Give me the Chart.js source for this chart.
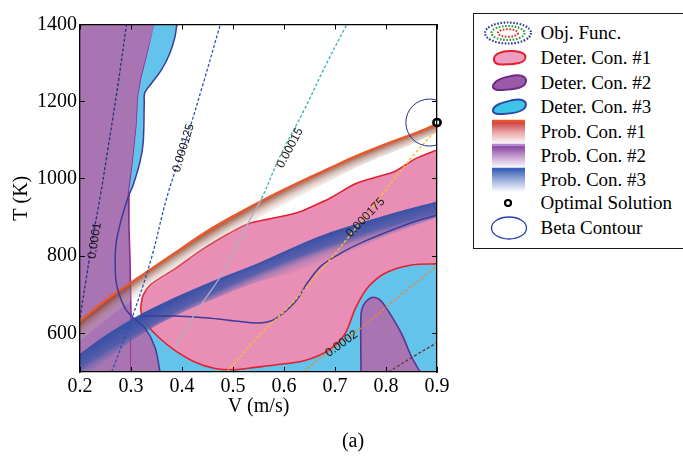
<!DOCTYPE html>
<html>
<head>
<meta charset="utf-8">
<script src="https://cdn.jsdelivr.net/npm/chart.js@4.4.1/dist/chart.umd.min.js"></script>
<style>
  html, body { margin: 0; padding: 0; background: #fff; }
  #wrap { position: relative; width: 683px; height: 469px; overflow: hidden;
          font-family: "Liberation Serif", "Times New Roman", serif; }
  #plot { position: absolute; left: 0; top: 0; }
  #legend { position: absolute; left: 473px; top: 13px; width: 240px; height: 234px;
            border: 1.5px solid #1a1a1a; background: #fff; }
  .row { position: absolute; left: 0; width: 240px; height: 24px; }
  .row svg { position: absolute; left: 8.5px; top: -1px; overflow: visible; }
  .row span { position: absolute; left: 66.5px; top: 0; line-height: 24px; font-size: 19px;
              white-space: nowrap; color: #000; }
  #caption { position: absolute; left: 353px; top: 428px; transform: translateX(-50%);
             font-size: 20px; line-height: 24px; color: #000; }
</style>
</head>
<body>
<div id="wrap">
  <canvas id="plot" width="683" height="469"></canvas>

  <div id="legend">
    <div class="row" style="top:6.5px">
      <svg width="52" height="26" viewBox="0 0 52 26">
        <ellipse cx="25" cy="13" rx="23" ry="10.5" fill="none" stroke="#2c3c9c" stroke-width="2.2" stroke-dasharray="1.6 1.6"/>
        <ellipse cx="25" cy="13" rx="16.5" ry="7" fill="none" stroke="#27a040" stroke-width="2.2" stroke-dasharray="1.6 1.6"/>
        <ellipse cx="25" cy="13" rx="10" ry="3.8" fill="none" stroke="#e02828" stroke-width="2" stroke-dasharray="1.6 1.6"/>
      </svg><span>Obj. Func.</span></div>
    <div class="row" style="top:31.5px">
      <svg width="52" height="26" viewBox="0 0 52 26">
        <path d="M11,15 C10,9 19,5.5 29,6 C39,6.5 44,9 42,14 C40,19 30,19 21,19.5 C15,20 11.5,18 11,15 Z" fill="#ee9cc2" stroke="#e4202c" stroke-width="2"/>
      </svg><span>Deter. Con. #1</span></div>
    <div class="row" style="top:56.5px">
      <svg width="52" height="26" viewBox="0 0 52 26">
        <path d="M10,16 C11,10 22,7 31,5.5 C40,4 44.5,8 42.5,13 C40.5,18.5 30,19.5 20,20 C13,20.5 9.5,19 10,16 Z" fill="#9a5aa8" stroke="#6a2a8a" stroke-width="2"/>
      </svg><span>Deter. Con. #2</span></div>
    <div class="row" style="top:80.5px">
      <svg width="52" height="26" viewBox="0 0 52 26">
        <path d="M10,16 C11,10 22,8 30,6 C39,4 44.5,7.5 42.5,12.5 C40.5,18 30,19.5 20,20 C13,20.5 9.5,19 10,16 Z" fill="#3dc4e6" stroke="#2c48a8" stroke-width="2"/>
      </svg><span>Deter. Con. #3</span></div>
    <div class="row" style="top:105.5px">
      <svg width="52" height="26" viewBox="0 0 52 26">
        <defs><linearGradient id="g1" x1="0" y1="0" x2="0" y2="1">
          <stop offset="0" stop-color="#c8282c"/><stop offset="0.5" stop-color="#e8a4a4"/><stop offset="1" stop-color="#fff"/></linearGradient></defs>
        <rect x="9" y="1" width="33" height="24" fill="url(#g1)"/>
        <line x1="9" y1="2" x2="42" y2="2" stroke="#e8562e" stroke-width="2.5"/>
      </svg><span>Prob. Con. #1</span></div>
    <div class="row" style="top:129.5px">
      <svg width="52" height="26" viewBox="0 0 52 26">
        <defs><linearGradient id="g2" x1="0" y1="0" x2="0" y2="1">
          <stop offset="0" stop-color="#7a2e90"/><stop offset="0.5" stop-color="#c49ad0"/><stop offset="1" stop-color="#fff"/></linearGradient></defs>
        <rect x="9" y="1" width="33" height="24" fill="url(#g2)"/>
        <line x1="9" y1="2" x2="42" y2="2" stroke="#b08ad0" stroke-width="2.5"/>
      </svg><span>Prob. Con. #2</span></div>
    <div class="row" style="top:153.5px">
      <svg width="52" height="26" viewBox="0 0 52 26">
        <defs><linearGradient id="g3" x1="0" y1="0" x2="0" y2="1">
          <stop offset="0" stop-color="#3456b0"/><stop offset="0.5" stop-color="#9cb0dc"/><stop offset="1" stop-color="#fff"/></linearGradient></defs>
        <rect x="9" y="1" width="33" height="24" fill="url(#g3)"/>
        <line x1="9" y1="2" x2="42" y2="2" stroke="#3a62c0" stroke-width="2.5"/>
      </svg><span>Prob. Con. #3</span></div>
    <div class="row" style="top:176.5px">
      <svg width="52" height="26" viewBox="0 0 52 26">
        <circle cx="25" cy="13" r="3" fill="#fff" stroke="#000" stroke-width="2.2"/>
      </svg><span>Optimal Solution</span></div>
    <div class="row" style="top:201.5px">
      <svg width="52" height="26" viewBox="0 0 52 26">
        <ellipse cx="26" cy="13" rx="17.5" ry="11" fill="none" stroke="#2c40aa" stroke-width="1.3"/>
      </svg><span>Beta Contour</span></div>
  </div>

  <div id="caption">(a)</div>
</div>

<script>
// ── Axes ──────────────────────────────────────
const xTicks = [0.2, 0.3, 0.4, 0.5, 0.6, 0.7, 0.8, 0.9];
const yTicks = [600, 800, 1000, 1200, 1400];

// ── Deterministic constraint regions (outlines, [V, T]) ──
const det3Lower = [[0.308,640],[0.327,615],[0.347,564],[0.357,500],[0.357,490],[0.91,490],[0.91,800],
  [0.80,790],[0.76,760],[0.6,600],[0.4,620],[0.33,648],[0.308,640]];
const det2Left = [[0.19,1410],[0.348,1410],[0.347,1400],[0.334,1333],[0.321,1266],[0.314,1215],[0.311,1139],
  [0.303,1037],[0.295,961],[0.296,880],[0.298,792],[0.300,650],[0.300,490],[0.19,490],[0.19,1410]];
const det2Wedge = [[0.300,650],[0.308,636],[0.327,615],[0.347,564],[0.357,500],[0.357,490],[0.300,490],[0.300,650]];
const det3Upper = [[0.347,1410],[0.392,1410],[0.390,1400],[0.386,1367],[0.376,1325],[0.360,1283],[0.341,1249],
  [0.327,1223],[0.326,1198],[0.324,1096],[0.318,1046],[0.305,987],[0.295,955],[0.303,1037],[0.311,1139],
  [0.314,1215],[0.321,1266],[0.334,1333],[0.347,1410]];
const det1Pink = [[0.319,668],[0.324,700],[0.34,728],[0.386,767],[0.437,815],[0.491,858],[0.53,884],[0.57,896],
  [0.622,911],[0.654,928],[0.69,950],[0.739,987],[0.778,1004],[0.818,1020],[0.857,1052],[0.9,1075],[0.91,1080],
  [0.91,780],[0.9,780],[0.85,777],[0.80,757],[0.765,720],[0.74,665],[0.72,600],[0.687,556],[0.641,530],
  [0.582,518],[0.543,512],[0.504,506],[0.465,509],[0.425,526],[0.386,556],[0.354,590],[0.331,623],[0.321,648],[0.319,668]];
const det2Right = [[0.751,490],[0.751,649],[0.756,674],[0.772,693],[0.788,687],[0.805,657],[0.831,598],
  [0.850,539],[0.867,500],[0.872,490],[0.751,490]];
const det3Curve = [[0.392,1410],[0.390,1400],[0.386,1367],[0.376,1325],[0.360,1283],[0.341,1249],[0.327,1223],
  [0.326,1198],[0.324,1096],[0.318,1046],[0.305,987],[0.295,955],[0.282,900],[0.271,835],[0.269,780],
  [0.272,725],[0.288,666],[0.308,636],[0.327,615],[0.347,564],[0.357,500],[0.36,490]];
const det3Branch = [[0.321,645],[0.386,645],[0.451,640],[0.504,632],[0.553,627],[0.582,637],[0.622,682],
  [0.647,733],[0.674,776],[0.713,809],[0.752,835],[0.805,864],[0.857,890],[0.9,906]];

// ── Probabilistic constraint bands (edge + end of shading) ──
const prob1Edge = [[0.2,632],[0.256,691],[0.321,750],[0.386,808],[0.44,857],[0.501,904],[0.566,950],
  [0.631,992],[0.69,1028],[0.739,1058],[0.805,1093],[0.857,1118],[0.9,1142]];
const prob1Fade = [[0.2,580],[0.256,640],[0.321,703],[0.386,762],[0.44,812],[0.501,862],[0.566,910],
  [0.631,955],[0.69,995],[0.739,1028],[0.805,1065],[0.857,1094],[0.9,1120]];
const prob3Edge = [[0.2,545],[0.256,598],[0.321,649],[0.386,691],[0.452,729],[0.553,782],[0.674,852],[0.805,906],[0.9,940]];
const prob3Fade = [[0.2,480],[0.256,535],[0.321,598],[0.386,645],[0.452,684],[0.553,735],[0.674,780],[0.805,855],[0.9,900]];

// ── Objective function contours ──
const c0001   = [[0.2,640],[0.212,740],[0.224,840],[0.239,949],[0.255,1080],[0.275,1249],[0.291,1400]];
const c000125 = [[0.262,500],[0.302,640],[0.339,790],[0.372,960],[0.41,1110],[0.44,1240],[0.475,1400]];
const c00015  = [[0.386,564],[0.43,660],[0.481,759],[0.533,894],[0.556,949],[0.592,1058],[0.64,1180],[0.68,1290],[0.723,1400]];
const c000175 = [[0.488,500],[0.548,590],[0.61,670],[0.68,775],[0.73,855],[0.791,957],[0.85,1055],[0.9,1130]];
const c0002   = [[0.638,500],[0.70,565],[0.752,615],[0.805,674],[0.85,722],[0.9,775]];
const c000225 = [[0.805,500],[0.85,537],[0.9,576]];

const clabelText  = ['0.0001', '0.000125', '0.00015', '0.000175', '0.0002'];
const clabelX     = [0.229, 0.403, 0.612, 0.76, 0.713];
const clabelY     = [840, 1080, 1080, 900, 573];
const clabelAngle = [-81, -73, -62, -46, -36];

const optimum    = [0.9, 1146];
const betaCenter = [0.885, 1146];

// ── Colours ──
const CYAN = '#63c3ea', PURPLE = '#a874b2', PINK = '#e98fb6';
const RED = '#e3202e', MAGENTA = '#8e2b92', NAVY = '#3a3c9c', CLEAR = 'rgba(0,0,0,0)';

const pts = arr => arr.map(([x, y]) => ({ x, y }));

// radial gradient that follows a gently curved edge (circle through 3 of its points)
function bandFill(edge, depth, stops) {
  return ({ chart }) => {
    const sx = chart.scales.x, sy = chart.scales.y;
    if (!chart.chartArea || !sx || !sy) return stops[stops.length - 1][1];
    const [a, b, c] = [edge[0], edge[Math.floor(edge.length / 2)], edge[edge.length - 1]]
      .map(([vx, vy]) => [sx.getPixelForValue(vx), sy.getPixelForValue(vy)]);
    const d = 2 * (a[0] * (b[1] - c[1]) + b[0] * (c[1] - a[1]) + c[0] * (a[1] - b[1]));
    const sa = a[0] ** 2 + a[1] ** 2, sb = b[0] ** 2 + b[1] ** 2, sc = c[0] ** 2 + c[1] ** 2;
    const cx = (sa * (b[1] - c[1]) + sb * (c[1] - a[1]) + sc * (a[1] - b[1])) / d;
    const cy = (sa * (c[0] - b[0]) + sb * (a[0] - c[0]) + sc * (b[0] - a[0])) / d;
    const r = Math.hypot(a[0] - cx, a[1] - cy);
    const g = chart.ctx.createRadialGradient(cx, cy, Math.max(r - depth, 0), cx, cy, r);
    stops.forEach(([o, col]) => g.addColorStop(o, col));
    return g;
  };
}

const area = (data, fillColor, lineColor, tension = 0) => ({
  data: pts(data), fill: 'shape', backgroundColor: fillColor,
  borderColor: lineColor || CLEAR, borderWidth: lineColor ? 1.6 : 1, tension
});
const curve = (data, color, width, dash) => ({
  data: pts(data), fill: false, borderColor: color, borderWidth: width, borderDash: dash || [], tension: 0.35
});

const DASH = [3, 2];
const layers = [
  area(det3Lower, CYAN),
  area(det2Left, PURPLE, MAGENTA),
  area(det2Wedge, PURPLE),
  area(det3Upper, CYAN),
  area(det1Pink, PINK, RED, 0.3),
  area(det2Right, PURPLE, '#5b3592', 0.3),
  { ...curve(prob3Edge, '#3b52a6', 1.5), fill: '+1',
    backgroundColor: bandFill(prob3Edge, 26, [[0, 'rgba(130,115,175,0)'], [0.35, 'rgba(110,105,175,0.4)'],
      [0.6, 'rgba(75,90,170,0.9)'], [1, 'rgba(60,82,166,1)']]) },
  curve(prob3Fade, CLEAR, 1),
  { ...curve(prob1Edge, '#e5592b', 2.4), fill: '+1',
    backgroundColor: bandFill(prob1Edge, 20, [[0, 'rgba(255,255,255,0)'], [0.5, 'rgba(190,160,150,0.35)'],
      [0.85, 'rgba(150,80,60,0.7)'], [1, 'rgba(150,60,40,0.85)']]) },
  curve(prob1Fade, CLEAR, 1),
  curve(det3Curve, NAVY, 1.5),
  curve(det3Branch, NAVY, 1.5),
  curve(c0001, '#23307a', 1.3, DASH),
  curve(c000125, '#3050b0', 1.3, DASH),
  { ...curve(c00015, '#3db1ae', 1.3, DASH),
    segment: {
      borderColor: s => c00015[s.p1DataIndex][1] <= 950 ? '#aeb0c2' : '#3db1ae',
      borderDash: s => c00015[s.p1DataIndex][1] <= 950 ? [] : DASH
    } },
  curve(c000175, '#f5c030', 1.4, DASH),
  curve(c0002, '#e88a30', 1.3, DASH),
  curve(c000225, '#6a3030', 1.3, DASH),
  { data: pts([betaCenter]), showLine: false, pointRadius: 23.5, pointBorderWidth: 1,
    pointBorderColor: '#262c8c', pointBackgroundColor: CLEAR },
  { data: pts([optimum]), showLine: false, pointRadius: 3.6, pointBorderWidth: 2.6,
    pointBorderColor: '#000', pointBackgroundColor: '#fff', clip: false }
];
const datasets = layers.map((d, i) => ({
  pointRadius: 0, clip: 0, xAxisID: 'x', yAxisID: 'y', ...d, order: layers.length - i
}));

// ── Contour labels ──
const clabels = {
  id: 'clabels',
  afterDatasetsDraw(chart) {
    const { ctx, scales: { x, y } } = chart;
    ctx.save();
    ctx.font = '12px "Liberation Sans", Arial, sans-serif';
    ctx.fillStyle = '#151515';
    ctx.textAlign = 'center';
    ctx.textBaseline = 'middle';
    clabelText.forEach((t, i) => {
      ctx.save();
      ctx.translate(x.getPixelForValue(clabelX[i]), y.getPixelForValue(clabelY[i]));
      ctx.rotate(clabelAngle[i] * Math.PI / 180);
      ctx.fillText(t, 0, 0);
      ctx.restore();
    });
    ctx.restore();
  }
};

const serif = { family: '"Liberation Serif", "Times New Roman", serif', size: 20 };
const frame = { display: true, color: '#000', width: 1.3, z: 1 };
const inward = { drawOnChartArea: false, drawTicks: true, tickLength: -5, tickWidth: 1, tickColor: '#000', z: 1 };
const setX = s => { s.ticks = xTicks.map(v => ({ value: v })); };
const setY = s => { s.ticks = yTicks.map(v => ({ value: v })); };

new Chart(document.getElementById('plot'), {
  type: 'line',
  data: { datasets },
  options: {
    responsive: false,
    animation: false,
    events: [],
    layout: { padding: { left: 0, top: 17, right: 246, bottom: 40 } },
    plugins: { legend: { display: false }, tooltip: { enabled: false } },
    scales: {
      x: {
        type: 'linear', position: 'bottom', min: 0.2, max: 0.9,
        afterBuildTicks: setX, afterFit: s => { s.height = 57; },
        ticks: { font: serif, color: '#000', padding: 8, maxRotation: 0, autoSkip: false, callback: v => String(v) },
        grid: inward, border: frame,
        title: { display: true, text: 'V (m/s)', font: serif, color: '#000', padding: { top: 0, bottom: 10 } }
      },
      y: {
        type: 'linear', position: 'left', min: 500, max: 1400,
        afterBuildTicks: setY, afterFit: s => { s.width = 80; },
        ticks: { font: serif, color: '#000', padding: 8, autoSkip: false, callback: v => String(v) },
        grid: inward, border: frame,
        title: { display: true, text: 'T (K)', font: serif, color: '#000', padding: { top: 10, bottom: 0 } }
      },
      x2: {
        type: 'linear', position: 'top', min: 0.2, max: 0.9,
        afterBuildTicks: setX, afterFit: s => { s.height = 0; },
        ticks: { display: false }, grid: inward, border: frame
      },
      y2: {
        type: 'linear', position: 'right', min: 500, max: 1400,
        afterBuildTicks: setY, afterFit: s => { s.width = 0; },
        ticks: { display: false }, grid: inward, border: frame
      }
    }
  },
  plugins: [clabels]
});
</script>
</body>
</html>
